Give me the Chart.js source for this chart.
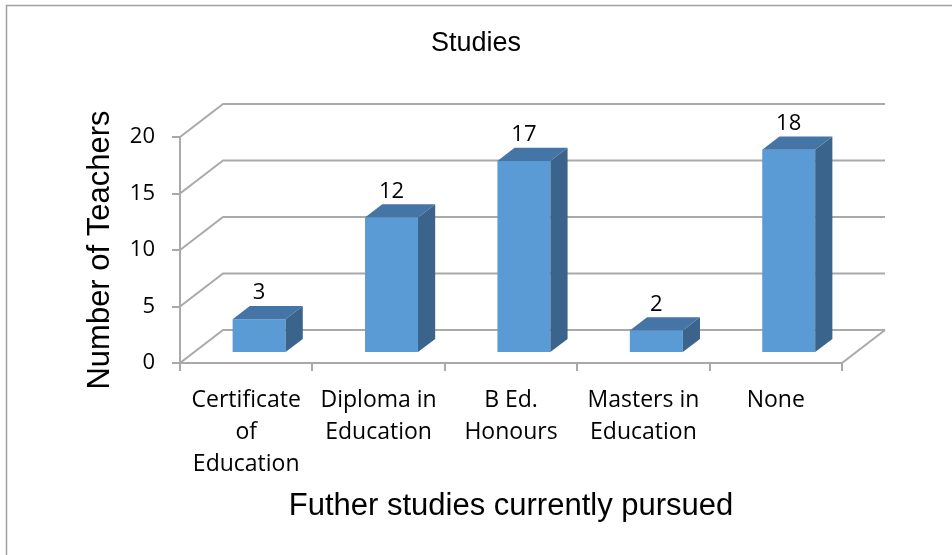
<!DOCTYPE html>
<html><head><meta charset="utf-8">
<script src="https://cdn.jsdelivr.net/npm/chart.js@4/dist/chart.umd.min.js"></script>
<style>html,body{margin:0;padding:0;background:#fff;overflow:hidden}#wrap{width:952px;height:555px}</style>
</head><body><div id="wrap"><canvas id="c" width="952" height="555"></canvas></div>
<script>
const categories = [["Certificate","of","Education"],["Diploma in","Education"],["B Ed.","Honours"],["Masters in","Education"],["None"]];
const teachers = [3, 12, 17, 2, 18];
const yTicks = [0, 5, 10, 15, 20];
const chartTitle = "Studies";
const xTitle = "Futher studies currently pursued";
const yTitle = "Number of Teachers";

const GRID = '#a9a9a9';
const FRONT_C = '#5b9bd5', TOP_C = '#4475a6', SIDE_C = '#3a648c';
const DX = 43, DY = -33, FRONT = 0.3, DEPTH = 0.4;
const SANS = "'Liberation Sans', Arial, sans-serif";
const LBL = "'Open Sans', sans-serif";

const wall3d = {
  id: 'wall3d',
  beforeDraw(chart) {
    const {ctx} = chart;
    ctx.save();
    ctx.fillStyle = '#fff'; ctx.fillRect(0, 0, chart.width, chart.height);
    ctx.strokeStyle = '#a0a0a0'; ctx.lineWidth = 1.5;
    ctx.strokeRect(6.5, 5.5, chart.width + 40, chart.height + 40);
    ctx.restore();
  },
  beforeDatasetsDraw(chart) {
    const {ctx, chartArea: {left, right, bottom}, scales: {y}} = chart;
    ctx.save();
    ctx.strokeStyle = GRID; ctx.lineWidth = 2; ctx.lineJoin = 'round';
    y.ticks.forEach(t => {
      const py = y.getPixelForValue(t.value);
      ctx.beginPath(); ctx.moveTo(left, py); ctx.lineTo(left + DX, py + DY); ctx.lineTo(right + DX, py + DY); ctx.stroke();
    });
    ctx.beginPath(); ctx.moveTo(right, bottom); ctx.lineTo(right + DX, bottom + DY); ctx.stroke();
    ctx.restore();
    ctx.save();
    ctx.translate(FRONT * DX, FRONT * DY);
  },
  afterDatasetsDraw(chart) {
    const {ctx} = chart;
    const meta = chart.getDatasetMeta(0);
    const sx = DEPTH * DX, sy = DEPTH * DY;
    meta.data.forEach((bar, i) => {
      const {x, y, base, width} = bar.getProps(['x', 'y', 'base', 'width'], true);
      const l = x - width / 2, r = x + width / 2;
      ctx.fillStyle = SIDE_C;
      ctx.beginPath(); ctx.moveTo(r, y); ctx.lineTo(r + sx, y + sy); ctx.lineTo(r + sx, base + sy); ctx.lineTo(r, base); ctx.closePath(); ctx.fill();
      ctx.fillStyle = TOP_C;
      ctx.beginPath(); ctx.moveTo(l, y); ctx.lineTo(l + sx, y + sy); ctx.lineTo(r + sx, y + sy); ctx.lineTo(r, y); ctx.closePath(); ctx.fill();
      ctx.fillStyle = '#000'; ctx.font = '22px ' + LBL; ctx.textAlign = 'center'; ctx.textBaseline = 'middle';
      ctx.fillText(String(teachers[i]), x, y - 26);
    });
    ctx.restore();
  }
};

Chart.defaults.color = '#000';
new Chart(document.getElementById('c'), {
  type: 'bar',
  data: {
    labels: categories,
    datasets: [{ data: teachers, backgroundColor: FRONT_C, borderWidth: 0, barPercentage: 0.4, categoryPercentage: 1 }]
  },
  options: {
    responsive: false, animation: false, events: [],
    layout: { padding: 0 },
    plugins: {
      legend: { display: false }, tooltip: { enabled: false },
      title: { display: true, text: chartTitle, color: '#000', font: { family: SANS, size: 27, weight: 'normal' }, padding: { top: 27.4, bottom: 77.2 } }
    },
    scales: {
      x: {
        grid: { display: true, drawOnChartArea: false, drawTicks: true, tickLength: 8, color: GRID, lineWidth: 2, offset: true },
        border: { display: true, color: GRID, width: 2 },
        ticks: { font: { family: LBL, size: 23, lineHeight: 1.4 }, color: '#000', padding: 13, maxRotation: 0, autoSkip: false },
        title: { display: true, text: xTitle, color: '#000', font: { family: SANS, size: 31 }, padding: { top: 0, bottom: 30.4 } },
        afterFit(s) { s.height = 192; }
      },
      y: {
        min: 0, max: 20,
        afterBuildTicks(s) { s.ticks = yTicks.map(v => ({ value: v })); },
        grid: { display: true, drawOnChartArea: false, drawTicks: true, tickLength: 8, color: GRID, lineWidth: 2 },
        border: { display: true, color: GRID, width: 2 },
        ticks: { font: { family: LBL, size: 22 }, color: '#000', padding: 17 },
        title: { display: true, text: yTitle, color: '#000', font: { family: SANS, size: 31 }, padding: { top: 81.4, bottom: 0 } },
        afterFit(s) { s.width = 180; }
      },
      y2: {
        position: 'right', display: true,
        grid: { display: false }, border: { display: false }, ticks: { display: false },
        afterFit(s) { s.width = 110; }
      }
    }
  },
  plugins: [wall3d]
});
</script>
</body></html>
